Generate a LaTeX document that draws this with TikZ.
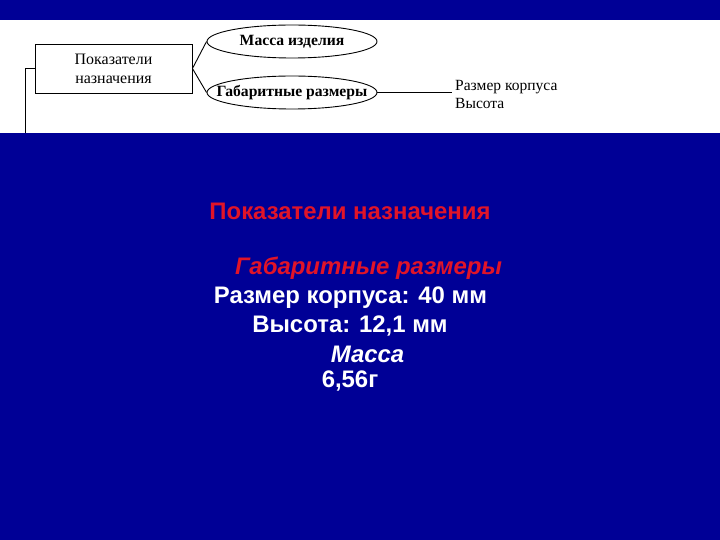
\documentclass[tikz,border=0pt]{standalone}
\usepackage{fontspec}
\setmainfont{Liberation Serif}
\newfontfamily\arialf{Liberation Sans}
\usetikzlibrary{shapes.geometric}
\definecolor{bgblue}{RGB}{0,0,150}
\definecolor{txtred}{RGB}{225,20,40}
\tikzset{
  x=1bp,y=-1bp,
  ln/.style={draw=black,line width=0.9bp},
  ell/.style={ellipse,draw=black,line width=0.9bp,minimum width=170bp,minimum height=33bp,inner sep=0pt},
  elltext/.style={font=\fontsize{15.7}{18}\selectfont\bfseries,inner sep=0pt},
  rectbox/.style={rectangle,draw=black,line width=0.9bp,minimum width=157bp,minimum height=49bp,inner sep=0pt,align=center,font=\fontsize{16}{19}\selectfont},
  plain/.style={inner sep=0pt,anchor=west,align=left,font=\fontsize{15.6}{18}\selectfont},
  redt/.style={inner sep=0pt,text=txtred,font=\arialf\fontsize{24}{28}\selectfont\bfseries},
  whitet/.style={inner sep=0pt,text=white,font=\arialf\fontsize{24}{28}\selectfont\bfseries}
}
\begin{document}
\begin{tikzpicture}
\useasboundingbox (0,0) rectangle (720,540);
\fill[bgblue] (0,0) rectangle (720,540);
\fill[white] (0,20) rectangle (720,133);
\node[rectbox] (pn) at (113.5,68.5) {Показатели\\назначения};
\node[ell,label={[elltext]center:Масса изделия}] (mass) at (292,41.5) {};
\node[ell,label={[elltext]center:Габаритные размеры}] (gab) at (292,92.5) {};
\coordinate (lt) at (25,68.5);
\coordinate (lb) at (25,133);
\coordinate (le) at (452,92.5);
\draw[ln] (lb) -- (lt) -- (pn.west);
\draw[ln] (pn.east) -- (mass.west);
\draw[ln] (pn.east) -- (gab.west);
\draw[ln] (gab.east) -- (le);
\node[plain,anchor=north west] (sz) at (455,80) {Размер корпуса\\Высота};
\node[redt] (t1) at (350,211) {Показатели назначения};
\node[redt,font=\arialf\fontsize{24}{28}\selectfont\bfseries\itshape] (t2) at (368.5,268) {Габаритные размеры};
\node[whitet] (t3) at (350.5,298) {Размер корпуса: 40 мм};
\node[whitet] (t4) at (350,326) {Высота: 12,1 мм};
\node[whitet,font=\arialf\fontsize{24}{28}\selectfont\bfseries\itshape] (t5) at (367.5,354) {Масса};
\node[whitet] (t6) at (350,381) {6,56г};
\end{tikzpicture}
\end{document}
